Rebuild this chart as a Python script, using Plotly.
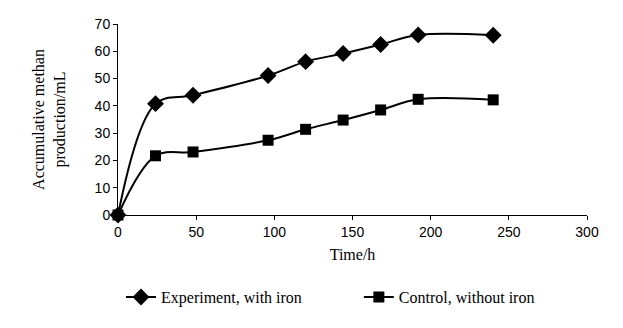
import plotly.graph_objects as go

time_h = [0, 24, 48, 96, 120, 144, 168, 192, 240]
exp_iron = [0, 40.8, 43.9, 51.1, 56.2, 59.2, 62.5, 66.0, 65.9]
ctrl_no_iron = [0, 21.7, 23.1, 27.4, 31.4, 34.8, 38.5, 42.4, 42.2]
series_names = ["Experiment, with iron", "Control, without iron"]

serif = "Liberation Serif, Times New Roman"
pad = "\u00a0" * 13  # spacing between the two legend entries

fig = go.Figure()
fig.add_trace(go.Scatter(
    x=time_h, y=exp_iron, name=series_names[0] + pad,
    mode="lines+markers", line=dict(color="black", width=2, shape="spline", smoothing=1.0),
    marker=dict(symbol="diamond", size=13, color="black"),
    cliponaxis=False,
))
fig.add_trace(go.Scatter(
    x=time_h, y=ctrl_no_iron, name=series_names[1],
    mode="lines+markers", line=dict(color="black", width=2, shape="spline", smoothing=1.0),
    marker=dict(symbol="square", size=11, color="black"),
    cliponaxis=False,
))

fig.update_layout(
    width=623, height=328,
    margin=dict(l=118, r=36, t=24, b=113, autoexpand=False),
    paper_bgcolor="white", plot_bgcolor="white",
    font=dict(family="Liberation Sans, Arial", size=14, color="black"),
    showlegend=True,
    legend=dict(
        orientation="h", x=0.0064, xanchor="left", y=-0.43, yanchor="middle",
        font=dict(family=serif, size=16),
        itemwidth=30, tracegroupgap=0,
    ),
)
fig.update_xaxes(
    range=[0, 300], tickvals=[0, 50, 100, 150, 200, 250, 300],
    showline=True, linecolor="black", linewidth=1, showgrid=False, zeroline=False,
    ticks="outside", ticklen=4, tickcolor="black",
    title=dict(text="Time/h", font=dict(family=serif, size=16), standoff=10),
)
fig.update_yaxes(
    range=[0, 70], tickvals=[0, 10, 20, 30, 40, 50, 60, 70],
    showline=True, linecolor="black", linewidth=1, showgrid=False, zeroline=False,
    ticks="outside", ticklen=4, tickcolor="black",
    title=dict(text="Accumulative methan<br>production/mL",
               font=dict(family=serif, size=16), standoff=25),
)

# drop the default 8px page margin so the figure sits at the window origin
fig.write_html("out.html", config={"displayModeBar": False},
               post_script="document.body.style.margin='0';")
